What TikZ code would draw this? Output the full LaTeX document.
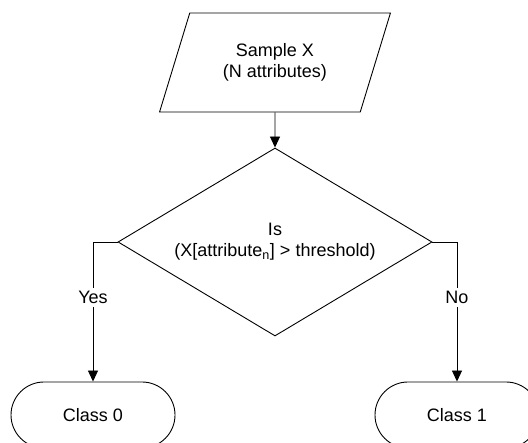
\documentclass[tikz,border=0pt]{standalone}
\usepackage{fontspec}
\setmainfont{Liberation Sans}
\usetikzlibrary{shapes.geometric,shapes.misc,arrows.meta}
\begin{document}
\begin{tikzpicture}[x=1pt,y=-1pt,line width=0.9pt,
  every node/.style={font=\fontsize{18}{21}\selectfont,align=center},
  io/.style={draw,trapezium,trapezium left angle=64,trapezium right angle=116,trapezium stretches,minimum width=231,minimum height=99,inner sep=0},
  test/.style={draw,diamond,aspect=1.67,minimum width=314,minimum height=188,inner sep=0},
  terminal/.style={draw,rounded rectangle,minimum width=164,minimum height=66,inner sep=0},
  link/.style={-{Triangle[width=10pt,length=11pt]}}]
\useasboundingbox (0,0) rectangle (528,443);
\node[io] (sample) at (275,62.5) {Sample X\\(N attributes)};
\node[test] (check) at (275,242) {Is\\(X[attribute\textsubscript{n}] > threshold)};
\node[terminal] (class0) at (93,415) {Class 0};
\node[terminal] (class1) at (457,415) {Class 1};
\draw[link] (sample) -- (check);
\draw[link] (check.west) -| node[pos=0.7,fill=white] {Yes} (class0);
\draw[link] (check.east) -| node[pos=0.7,fill=white] {No} (class1);
\end{tikzpicture}
\end{document}
